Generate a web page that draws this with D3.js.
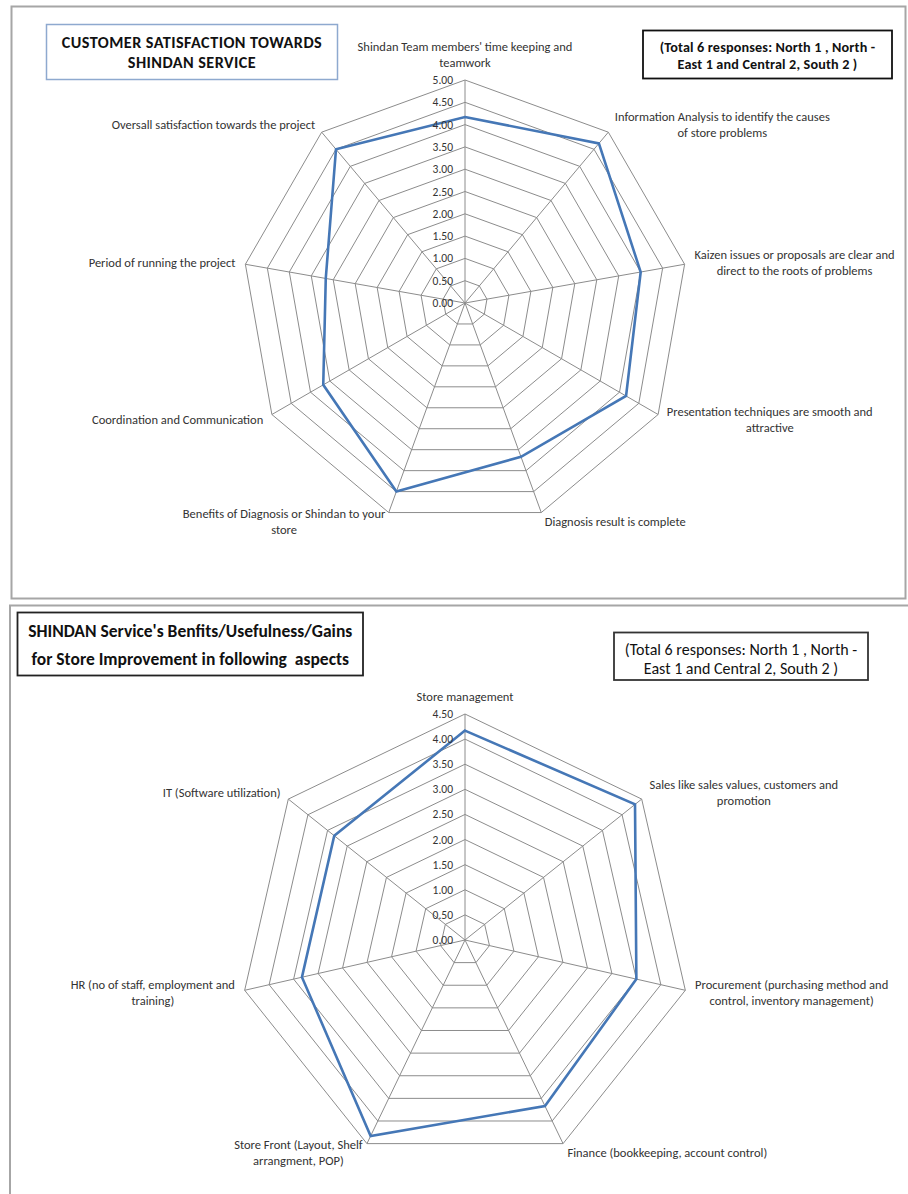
<!DOCTYPE html>
<html><head><meta charset="utf-8">
<script src="https://cdn.jsdelivr.net/npm/d3@7"></script>
<style>
body{margin:0;background:#fff;}
svg{display:block;font-family:Carlito, Calibri, Lato, "Open Sans", sans-serif;}
</style></head><body>
<svg id="chart" width="908" height="1194"></svg>
<script>
// ---------- data ----------
const topCategories = [
  "Shindan Team members' time keeping and\nteamwork",
  "Information Analysis to identify the causes\nof store problems",
  "Kaizen issues or proposals are clear and\ndirect to the roots of problems",
  "Presentation techniques are smooth and\nattractive",
  "Diagnosis result is complete",
  "Benefits of Diagnosis or Shindan to your\nstore",
  "Coordination and Communication",
  "Period of running the project",
  "Oversall satisfaction towards the project"
];
const topValues = [4.17, 4.67, 4.00, 4.17, 3.67, 4.50, 3.67, 3.17, 4.50];
const topTicks = [0, 0.5, 1, 1.5, 2, 2.5, 3, 3.5, 4, 4.5, 5];

const bottomCategories = [
  "Store management",
  "Sales like sales values, customers and\npromotion",
  "Procurement (purchasing method and\ncontrol, inventory management)",
  "Finance (bookkeeping, account control)",
  "Store Front (Layout, Shelf\narrangment, POP)",
  "HR (no of staff, employment and\ntraining)",
  "IT (Software utilization)"
];
const bottomValues = [4.17, 4.33, 3.50, 3.67, 4.33, 3.33, 3.33];
const bottomTicks = [0, 0.5, 1, 1.5, 2, 2.5, 3, 3.5, 4, 4.5];

const topTitle = ["CUSTOMER SATISFACTION TOWARDS", "SHINDAN SERVICE"];
const bottomTitle = ["SHINDAN Service's Benfits/Usefulness/Gains", "for Store Improvement in following  aspects"];
const responsesNote = ["(Total 6 responses: North 1 , North -", "East 1 and Central 2, South 2 )"];
const responsesNoteBottom = ["(Total 6 responses: North 1 , North -", "East 1 and Central 2, South 2 )"];

// ---------- drawing ----------
const svg = d3.select("#chart");
const fmt = d3.format(".2f");

// panel frames
svg.append("rect").attr("x", 11.5).attr("y", 6.5).attr("width", 894).attr("height", 592)
  .attr("fill", "none").attr("stroke", "#a6a6a6").attr("stroke-width", 2);
svg.append("path").attr("d", "M10,1194V605.5H908")
  .attr("fill", "none").attr("stroke", "#a6a6a6").attr("stroke-width", 2);

function textBox(box, lines, opts) {
  const g = svg.append("g");
  g.append("rect").attr("x", box[0]).attr("y", box[1])
    .attr("width", box[2] - box[0]).attr("height", box[3] - box[1])
    .attr("fill", "#fff").attr("stroke", opts.stroke).attr("stroke-width", opts.sw || 1.5);
  const mx = (box[0] + box[2]) / 2;
  lines.forEach((l, k) => {
    g.append("text").attr("x", mx).attr("y", opts.y0 + k * opts.lh)
      .attr("text-anchor", "middle").attr("dominant-baseline", "central")
      .attr("font-size", opts.fs).attr("font-weight", opts.fw || "bold")
      .attr("letter-spacing", opts.ls || 0)
      .attr("fill", "#111").style("white-space", "pre").text(l);
  });
}

function radar(cfg) {
  const { cx, cy, R, categories, values, ticks } = cfg;
  const n = categories.length;
  const max = d3.max(ticks);
  const r = d3.scaleLinear().domain([0, max]).range([0, R]);
  const a = d3.scaleLinear().domain([0, n]).range([0, 2 * Math.PI]);
  const radial = d3.lineRadial().angle((d, i) => a(i)).radius(d => r(d)).curve(d3.curveLinearClosed);
  const g = svg.append("g").attr("transform", `translate(${cx},${cy})`);

  // rings
  g.append("g").selectAll("path").data(ticks.filter(t => t > 0)).join("path")
    .attr("d", t => radial(categories.map(() => t)))
    .attr("fill", "none").attr("stroke", "#8c8c8c").attr("stroke-width", 1);
  // spokes
  g.append("g").selectAll("line").data(categories).join("line")
    .attr("x1", 0).attr("y1", 0)
    .attr("x2", (d, i) => d3.pointRadial(a(i), r(max))[0])
    .attr("y2", (d, i) => d3.pointRadial(a(i), r(max))[1])
    .attr("stroke", "#8c8c8c").attr("stroke-width", 1);
  // series
  g.append("path").attr("d", radial(values))
    .attr("fill", "none").attr("stroke", "#4577b6").attr("stroke-width", 2.6)
    .attr("stroke-linejoin", "miter");
  // tick labels
  g.append("g").selectAll("text").data(ticks).join("text")
    .attr("x", -12).attr("y", t => -r(t))
    .attr("text-anchor", "end").attr("dominant-baseline", "central")
    .attr("font-size", 11.5).attr("fill", "#333").text(t => fmt(t));
  // category labels
  const LH = 16;
  categories.forEach((lab, i) => {
    const ang = a(i);
    const ux = Math.sin(ang), uy = -Math.cos(ang);
    const tip = d3.pointRadial(ang, r(max));
    const px = tip[0] + 10 * ux, py = tip[1] + 10 * uy;
    const lines = lab.split("\n");
    const h = lines.length * LH;
    const lg = g.append("g");
    const ts = lines.map(l => lg.append("text").attr("font-size", 12.5).attr("fill", "#333")
      .attr("text-anchor", "middle").attr("dominant-baseline", "central").text(l));
    const w = d3.max(ts, t => t.node().getComputedTextLength());
    let mx, my;
    if (Math.abs(ux) < 0.1) { mx = px; my = py + Math.sign(uy) * h / 2; }
    else { mx = px + Math.sign(ux) * w / 2; my = py; }
    ts.forEach((t, k) => t.attr("x", mx).attr("y", my - h / 2 + LH / 2 + k * LH));
  });
}

radar({ cx: 465, cy: 303, R: 223, categories: topCategories, values: topValues, ticks: topTicks });
radar({ cx: 465, cy: 940, R: 226, categories: bottomCategories, values: bottomValues, ticks: bottomTicks });

textBox([46.5, 24.5, 337.5, 79.5], topTitle, { stroke: "#8ea9cf", fs: 16.2, ls: 0.45, y0: 42, lh: 20 });
textBox([643, 30.5, 892, 78.5], responsesNote, { stroke: "#111", fs: 14.2, ls: 0.15, y0: 46.5, lh: 17, sw: 1.8 });
textBox([17.5, 612.5, 363, 675.5], bottomTitle, { stroke: "#222", fs: 17.5, y0: 630.5, lh: 28, sw: 1.8 });
textBox([614, 632.5, 868, 680], responsesNoteBottom, { stroke: "#333", fs: 16, y0: 649, lh: 19, fw: "normal", sw: 1.8 });
</script>
</body></html>
